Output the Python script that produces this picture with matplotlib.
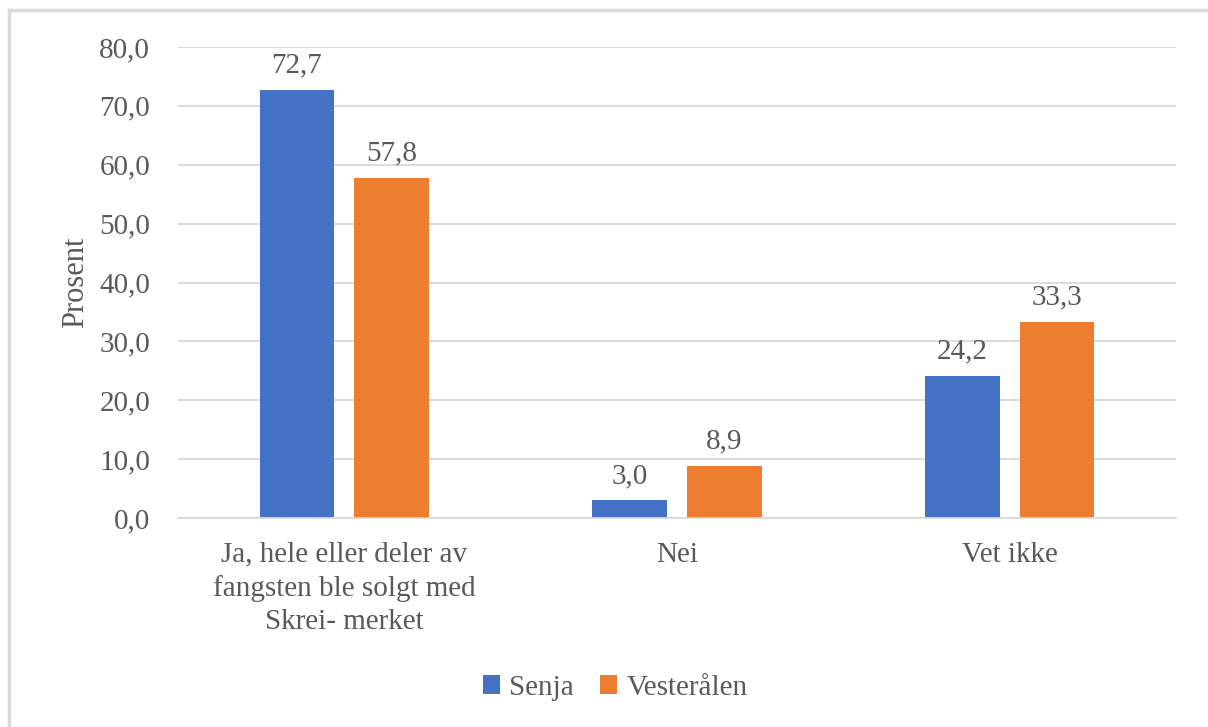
import matplotlib
matplotlib.use("Agg")
import matplotlib.pyplot as plt
from matplotlib.lines import Line2D
import numpy as np

categories = ["Ja, hele eller deler av\nfangsten ble solgt med\nSkrei- merket", "Nei", "Vet ikke"]
series_names = ["Senja", "Vesterålen"]
senja = [72.7, 3.0, 24.2]
vesteralen = [57.8, 8.9, 33.3]
yticks = [0, 10, 20, 30, 40, 50, 60, 70, 80]

plt.rcParams['font.family'] = ['Liberation Serif', 'DejaVu Serif']
txt = '#595959'
fs = 21

fig = plt.figure(figsize=(12.08, 7.27), dpi=100)
ax = fig.add_axes([178/1208, 1-518/727, (1176-178)/1208, (518-47)/727])

x = np.arange(len(categories))
w = 0.225
off = 0.1425
b1 = ax.bar(x - off, senja, w, color='#4472C4', label=series_names[0])
b2 = ax.bar(x + off, vesteralen, w, color='#ED7D31', label=series_names[1])

for bars, vals in ((b1, senja), (b2, vesteralen)):
    for b, v in zip(bars, vals):
        ax.text(b.get_x() + b.get_width()/2, v + 1.9, f"{v:.1f}".replace('.', ','),
                ha='center', va='bottom', fontsize=fs, color=txt)

ax.set_xlim(-0.5, 2.5)
ax.set_ylim(0, 80)
ax.set_yticks(yticks)
ax.set_yticklabels([f"{v:.1f}".replace('.', ',') for v in yticks], fontsize=fs, color=txt)
ax.set_xticks(x)
ax.set_xticklabels(categories, fontsize=fs, color=txt, linespacing=1.34)
ax.tick_params(axis='both', length=0)
ax.tick_params(axis='y', pad=20)
ax.tick_params(axis='x', pad=17)
ax.grid(axis='y', color='#D9D9D9', linewidth=1.3)
ax.set_axisbelow(True)
for s in ['top', 'right', 'left']:
    ax.spines[s].set_visible(False)
ax.spines['bottom'].set_color('#D9D9D9')
ax.spines['bottom'].set_linewidth(1.3)
ax.set_ylabel("Prosent", fontsize=22, color=txt, labelpad=7)

leg = fig.legend(handles=[b1, b2], labels=series_names, loc='center',
                 bbox_to_anchor=(615/1208, 1-688/727), ncol=2, frameon=False,
                 fontsize=fs, handlelength=0.6, handleheight=0.6, handletextpad=0.3,
                 columnspacing=0.9)
for t in leg.get_texts():
    t.set_color(txt)

fig.add_artist(Line2D([9/1208, 9/1208], [0, 1-10/727], transform=fig.transFigure,
                      color='#D9D9D9', linewidth=2.5))
fig.add_artist(Line2D([9/1208, 1], [1-10/727, 1-10/727], transform=fig.transFigure,
                      color='#D9D9D9', linewidth=2.5))

fig.savefig("out.png", dpi=100)
